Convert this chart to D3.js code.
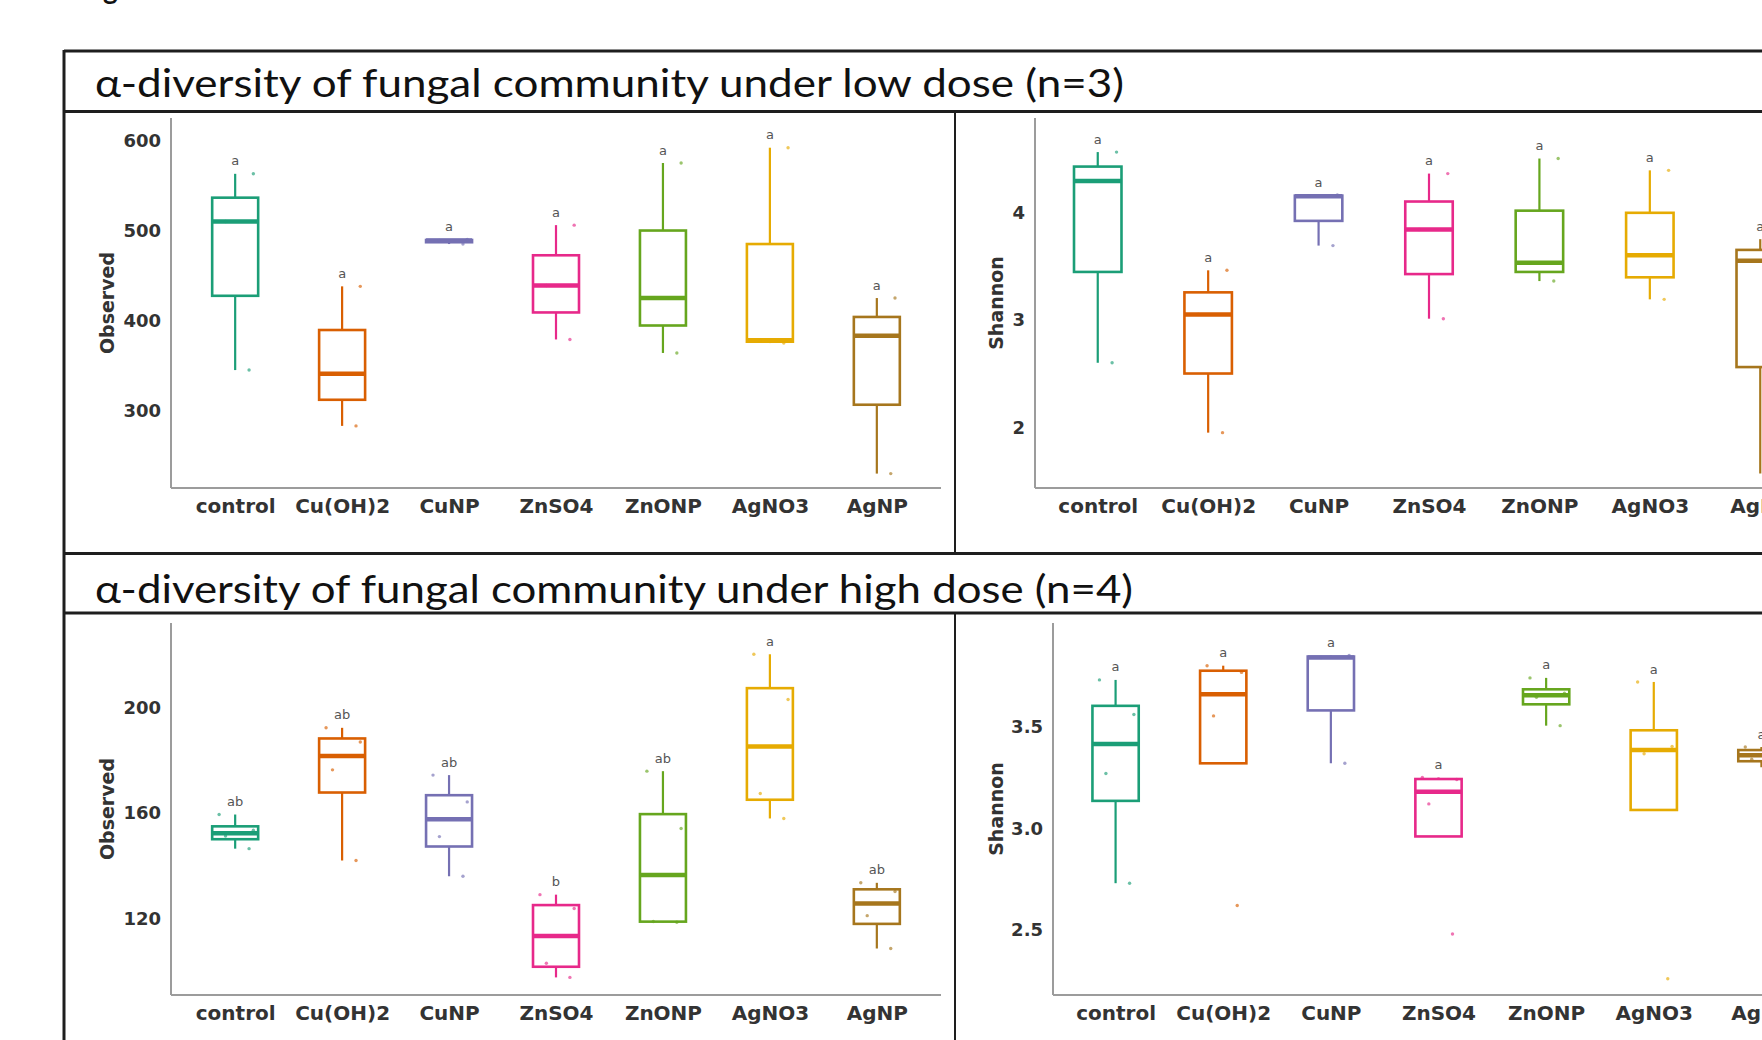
<!DOCTYPE html>
<html>
<head>
<meta charset="utf-8">
<script src="https://cdn.jsdelivr.net/npm/d3@7/dist/d3.min.js"></script>
<style>
body { margin: 0; background: #fff; }
svg { display: block; }
</style>
</head>
<body>
<div id="chart"></div>
<script>
// Global variables.
let width = 1762
let height = 1040
const frameColour = "#1e1e1e"
const axisColour = "#9c9c9c"
const textColour = "#333"

// Treatments and their Dark2 colours.
const groups = ["control", "Cu(OH)2", "CuNP", "ZnSO4", "ZnONP", "AgNO3", "AgNP"]
const colours = ["#1b9e77", "#d95f02", "#7570b3", "#e7298a", "#66a61e", "#e6ab02", "#a6761d"]

// Samples per treatment (low dose n=3, high dose n=4).
const lowObserved = [[345, 510, 563], [283, 341, 438], [485, 489, 490], [379, 439, 506],
    [364, 425, 575], [375, 378, 592], [230, 383, 425]]
const lowShannon = [[2.60, 4.29, 4.56], [1.95, 3.05, 3.46], [3.69, 4.15, 4.16], [3.01, 3.84, 4.36],
    [3.36, 3.53, 4.50], [3.19, 3.60, 4.39], [1.57, 3.55, 3.75]]
const highObserved = [[146.5, 151.3, 153.5, 159.5], [142, 176.5, 187.1, 192.5], [136, 151.1, 164.3, 174.5],
    [97.5, 102.9, 123.7, 129], [118.5, 118.8, 154.2, 176], [158, 167.5, 203.3, 220.5], [108.5, 121, 130.2, 133.5]]
const highShannon = [[2.73, 3.27, 3.56, 3.73], [2.62, 3.553, 3.767, 3.80], [3.32, 3.84, 3.85],
    [2.48, 3.12, 3.24, 3.25], [3.505, 3.645, 3.665, 3.74], [2.26, 3.367, 3.403, 3.72], [3.30, 3.34, 3.38, 3.40]]

// Significance letters.
const lowObsLetters = ["a", "a", "a", "a", "a", "a", "a"]
const lowShanLetters = ["a", "a", "a", "a", "a", "a", "a"]
const highObsLetters = ["ab", "ab", "ab", "b", "ab", "a", "ab"]
const highShanLetters = ["a", "a", "a", "a", "a", "a", "a"]

// Axis ticks.
const lowObsTicks = [300, 400, 500, 600]
const lowShanTicks = [2, 3, 4]
const highObsTicks = [120, 160, 200]
const highShanTicks = [2.5, 3.0, 3.5]

const titles = ["α-diversity of fungal community under low dose (n=3)",
    "α-diversity of fungal community under high dose (n=4)"]

// Fixed horizontal spread of the sample dots (in category steps).
const dotSpread = [0.13, -0.09, 0.17, -0.15]

let svg = d3.select("#chart")
    .append("svg")
    .attr("width", width)
    .attr("height", height)
    .style("font-family", "'DejaVu Sans', sans-serif")

// Cut-off figure caption at the very top.
svg.append("text")
    .attr("x", 80)
    .attr("y", -1)
    .style("font-family", "Lato, 'Open Sans', sans-serif")
    .style("font-weight", "bold")
    .style("font-size", "28px")
    .style("fill", "#111")
    .text("Figure 2")

// Frame and title bands.
let frame = svg.append("g").style("stroke", frameColour).style("fill", "none")
frame.append("line").attr("x1", 64).attr("x2", width).attr("y1", 51).attr("y2", 51).style("stroke-width", 3)
frame.append("line").attr("x1", 64).attr("x2", 64).attr("y1", 50).attr("y2", height).style("stroke-width", 3)
frame.append("line").attr("x1", 64).attr("x2", width).attr("y1", 111.5).attr("y2", 111.5).style("stroke-width", 3)
frame.append("line").attr("x1", 64).attr("x2", width).attr("y1", 553.5).attr("y2", 553.5).style("stroke-width", 3)
frame.append("line").attr("x1", 64).attr("x2", width).attr("y1", 613).attr("y2", 613).style("stroke-width", 3)
frame.append("line").attr("x1", 955).attr("x2", 955).attr("y1", 112).attr("y2", 553).style("stroke-width", 2)
frame.append("line").attr("x1", 955).attr("x2", 955).attr("y1", 613).attr("y2", height).style("stroke-width", 2)

let titleY = [97, 603]
let titleWidths = [1029, 1038]
titles.forEach(function(t, i) {
    svg.append("text")
        .attr("x", 95)
        .attr("y", titleY[i])
        .attr("textLength", titleWidths[i])
        .attr("lengthAdjust", "spacingAndGlyphs")
        .style("font-family", "Lato, 'Open Sans', sans-serif")
        .style("font-size", "39px")
        .style("fill", "#111")
        .text(t)
})

// Panel layouts (axis corner, category range, value range on screen).
let panels = [
    {data: lowObserved, ticks: lowObsTicks, letters: lowObsLetters, label: "Observed",
        axisX: 171, r0: 171, r1: 941, top: 118, bottom: 488, domain: [214, 625], labelX: 107, fmt: d3.format("d")},
    {data: lowShannon, ticks: lowShanTicks, letters: lowShanLetters, label: "Shannon",
        axisX: 1035, r0: 1031.5, r1: 1826.5, top: 118, bottom: 488, domain: [1.435, 4.877], labelX: 996, fmt: d3.format("d")},
    {data: highObserved, ticks: highObsTicks, letters: highObsLetters, label: "Observed",
        axisX: 171, r0: 171, r1: 941, top: 623, bottom: 995, domain: [90.8, 232.4], labelX: 107, fmt: d3.format("d")},
    {data: highShannon, ticks: highShanTicks, letters: highShanLetters, label: "Shannon",
        axisX: 1053, r0: 1051, r1: 1826, top: 623, bottom: 995, domain: [2.18, 4.01], labelX: 996, fmt: d3.format(".1f")}
]

// Box statistics the way ggplot computes them (quantile type 7, whiskers within 1.5 IQR).
function boxStats(values) {
    let v = values.slice().sort(d3.ascending)
    let q1 = d3.quantile(v, 0.25)
    let med = d3.quantile(v, 0.5)
    let q3 = d3.quantile(v, 0.75)
    let iqr = q3 - q1
    let lo = d3.min(v.filter(d => d >= q1 - 1.5 * iqr))
    let hi = d3.max(v.filter(d => d <= q3 + 1.5 * iqr))
    return {q1: q1, med: med, q3: q3, lo: lo, hi: hi, max: d3.max(v)}
}

panels.forEach(function(p) {
    let x = d3.scalePoint().domain(groups).range([p.r0, p.r1]).padding(0.6)
    let y = d3.scaleLinear().domain(p.domain).range([p.bottom, p.top])
    let step = x.step()
    let boxW = step * 0.43

    let g = svg.append("g")

    // Axes.
    let yAxis = d3.axisLeft(y).tickValues(p.ticks).tickFormat(p.fmt).tickSize(0).tickSizeOuter(0).tickPadding(10)
    let gy = g.append("g").attr("transform", "translate(" + p.axisX + ",0)").call(yAxis)
    let xAxis = d3.axisBottom(x).tickSize(0).tickSizeOuter(0).tickPadding(11)
    let gx = g.append("g").attr("transform", "translate(0," + p.bottom + ")").call(xAxis)
    gx.select(".domain").attr("d", "M" + p.axisX + ",0H" + p.r1)
    gy.select(".domain").attr("d", "M0," + p.top + "V" + p.bottom)
    g.selectAll(".domain").style("stroke", axisColour).style("stroke-width", 2)
    gy.selectAll("text").style("font-family", "'DejaVu Sans', sans-serif").style("font-weight", "bold")
        .style("font-size", "18px").style("fill", textColour)
    gx.selectAll("text").style("font-family", "'DejaVu Sans', sans-serif").style("font-weight", "bold")
        .style("font-size", "20px").style("fill", textColour)

    // Y axis title.
    g.append("text")
        .attr("transform", "translate(" + p.labelX + "," + ((p.top + p.bottom) / 2) + ") rotate(-90)")
        .attr("dy", "0.35em")
        .style("text-anchor", "middle")
        .style("font-weight", "bold")
        .style("font-size", "19px")
        .style("fill", textColour)
        .text(p.label)

    // Boxes.
    p.data.forEach(function(values, i) {
        let s = boxStats(values)
        let cx = x(groups[i])
        let col = colours[i]
        let box = g.append("g").style("stroke", col).style("fill", "none")

        box.append("line").attr("x1", cx).attr("x2", cx).attr("y1", y(s.q3)).attr("y2", y(s.hi)).style("stroke-width", 2.2)
        box.append("line").attr("x1", cx).attr("x2", cx).attr("y1", y(s.q1)).attr("y2", y(s.lo)).style("stroke-width", 2.2)
        box.append("rect")
            .attr("x", cx - boxW / 2)
            .attr("y", y(s.q3))
            .attr("width", boxW)
            .attr("height", Math.max(y(s.q1) - y(s.q3), 0.5))
            .style("fill", "#fff")
            .style("stroke-width", 2.6)
        box.append("line")
            .attr("x1", cx - boxW / 2).attr("x2", cx + boxW / 2)
            .attr("y1", y(s.med)).attr("y2", y(s.med))
            .style("stroke-width", 4.5)

        // Sample dots.
        g.append("g").selectAll("circle")
            .data(values)
            .enter()
            .append("circle")
            .attr("cx", (d, k) => cx + dotSpread[k % dotSpread.length] * step)
            .attr("cy", d => y(d))
            .attr("r", 1.7)
            .style("fill", col)
            .style("opacity", 0.65)

        // Letter above the highest sample.
        g.append("text")
            .attr("x", cx)
            .attr("y", y(s.max) - 13)
            .attr("dy", "0.35em")
            .style("text-anchor", "middle")
            .style("font-size", "13px")
            .style("fill", "#555")
            .text(p.letters[i])
    })
})
</script>
</body>
</html>
